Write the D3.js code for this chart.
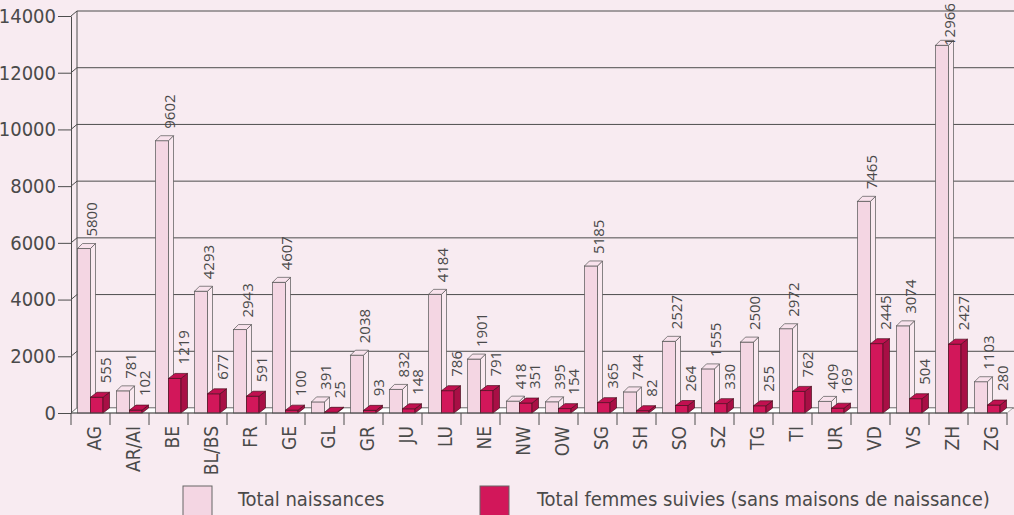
<!DOCTYPE html>
<html>
<head>
<meta charset="utf-8">
<script src="https://cdn.jsdelivr.net/npm/d3@7"></script>
<style>
  html, body { margin: 0; padding: 0; background: #f8ebf1; }
  svg { display: block; }
  .num { font-family: "Liberation Sans Narrow", "DejaVu Sans Condensed", sans-serif; fill: #4a4a4a; }
</style>
</head>
<body>
<svg id="chart" width="1014" height="515"></svg>
<script>
const categories = ['AG','AR/AI','BE','BL/BS','FR','GE','GL','GR','JU','LU','NE','NW','OW','SG','SH','SO','SZ','TG','TI','UR','VD','VS','ZH','ZG'];
// Total naissances
const naissances = [5800,781,9602,4293,2943,4607,391,2038,832,4184,1901,418,395,5185,744,2527,1555,2500,2972,409,7465,3074,12966,1103];
// Total femmes suivies (sans maisons de naissance)
const suivies = [555,102,1219,677,591,100,25,93,148,786,791,351,154,365,82,264,330,255,762,169,2445,504,2427,280];
const yTicks = [0,2000,4000,6000,8000,10000,12000,14000];
const legendLabels = ['Total naissances', 'Total femmes suivies (sans maisons de naissance)'];

const svg = d3.select('#chart');
const x = d3.scaleBand().domain(categories).range([71, 1007]);
const y = d3.scaleLinear().domain([0, 14000]).range([413, 16]);
const dx = 6, dy = 5;
const base = y(0);

// back wall grid lines + depth connectors
const grid = svg.append('g');
yTicks.forEach(v => {
  grid.append('line').attr('x1', 71 + dx).attr('x2', 1014).attr('y1', y(v) - dy).attr('y2', y(v) - dy)
    .attr('stroke', '#4d4d4d').attr('stroke-width', 1);
  grid.append('line').attr('x1', 71).attr('x2', 71 + dx).attr('y1', y(v)).attr('y2', y(v) - dy)
    .attr('stroke', '#4d4d4d').attr('stroke-width', 1);
});
grid.append('line').attr('x1', 71 + dx).attr('x2', 71 + dx).attr('y1', y(0) - dy).attr('y2', y(14000) - dy)
  .attr('stroke', '#4d4d4d');

// white floor
svg.append('path')
  .attr('d', `M71,${base}L1007,${base}L${1007 + dx},${base - dy}L${71 + dx},${base - dy}Z`)
  .attr('fill', '#fff').attr('stroke', '#777').attr('stroke-width', 0.6);

// y axis
const yAxis = svg.append('g').attr('transform', 'translate(71,0)')
  .call(d3.axisLeft(y).tickValues(yTicks).tickSize(13).tickSizeOuter(0).tickPadding(2).tickFormat(d3.format('d')));
yAxis.select('.domain').attr('stroke', '#4d4d4d');
yAxis.selectAll('.tick line').attr('stroke', '#4d4d4d');
yAxis.selectAll('.tick text').attr('class', 'num').attr('font-size', 20).attr('fill', '#4a4a4a');

function bar3d(g, x0, w, d, v, cols) {
  const yt = y(v);
  g.append('rect').attr('x', x0).attr('y', yt).attr('width', w).attr('height', base - yt)
    .attr('fill', cols.front).attr('stroke', cols.line).attr('stroke-width', 0.7);
  g.append('path')
    .attr('d', `M${x0 + w},${yt}L${x0 + w + d},${yt - dy}L${x0 + w + d},${base - dy}L${x0 + w},${base}Z`)
    .attr('fill', cols.side).attr('stroke', cols.line).attr('stroke-width', 0.7);
  g.append('path')
    .attr('d', `M${x0},${yt}L${x0 + d},${yt - dy}L${x0 + w + d},${yt - dy}L${x0 + w},${yt}Z`)
    .attr('fill', cols.top).attr('stroke', cols.line).attr('stroke-width', 0.7);
}

const pinkCols = {front: '#f4d6e3', side: '#fae9f0', top: '#f8e2ec', line: '#555'};
const redCols = {front: '#d2175a', side: '#a80f45', top: '#c11050', line: '#4a1020'};

const bars = svg.append('g');
categories.forEach((c, i) => {
  const s = x(c);
  bar3d(bars, s + 6.5, 13, 5, naissances[i], pinkCols);
  bar3d(bars, s + 19.5, 12.5, 6.5, suivies[i], redCols);
});

// value labels (kept inside the picture at the top)
const lab = svg.append('g').attr('font-family', '"Open Sans", sans-serif').attr('font-size', 15).attr('fill', '#4a4a4a');
const labY = (v, off) => Math.max(y(v) - off, 46);
categories.forEach((c, i) => {
  const s = x(c);
  lab.append('text').attr('transform', `translate(${s + 25.5},${labY(naissances[i], 12)}) rotate(-90)`)
    .text(naissances[i]);
  lab.append('text').attr('transform', `translate(${s + 39.5},${labY(suivies[i], 14)}) rotate(-90)`)
    .text(suivies[i]);
});

// x axis: front floor line, boundary ticks, rotated category names
svg.append('line').attr('x1', 71).attr('x2', 1007).attr('y1', base).attr('y2', base).attr('stroke', '#4d4d4d');
const bounds = categories.map(c => x(c)).concat([x.range()[1]]);
svg.append('g').selectAll('line').data(bounds).join('line')
  .attr('x1', d => d).attr('x2', d => d).attr('y1', base).attr('y2', base + 12)
  .attr('stroke', '#4d4d4d');
svg.append('g').selectAll('text').data(categories).join('text')
  .attr('class', 'num')
  .attr('font-size', 19)
  .attr('text-anchor', 'end')
  .attr('transform', d => `translate(${x(d) + x.bandwidth() / 2 + 10.5},426) rotate(-90)`)
  .text(d => d);

// legend
const leg = svg.append('g');
[[183, pinkCols.front, 238], [480, redCols.front, 537]].forEach((p, i) => {
  leg.append('rect').attr('x', p[0]).attr('y', 486).attr('width', 29).attr('height', 30)
    .attr('fill', p[1]).attr('stroke', '#666');
  leg.append('text').attr('class', 'num').attr('x', p[2]).attr('y', 506).attr('font-size', 20)
    .text(legendLabels[i]);
});
</script>
</body>
</html>
